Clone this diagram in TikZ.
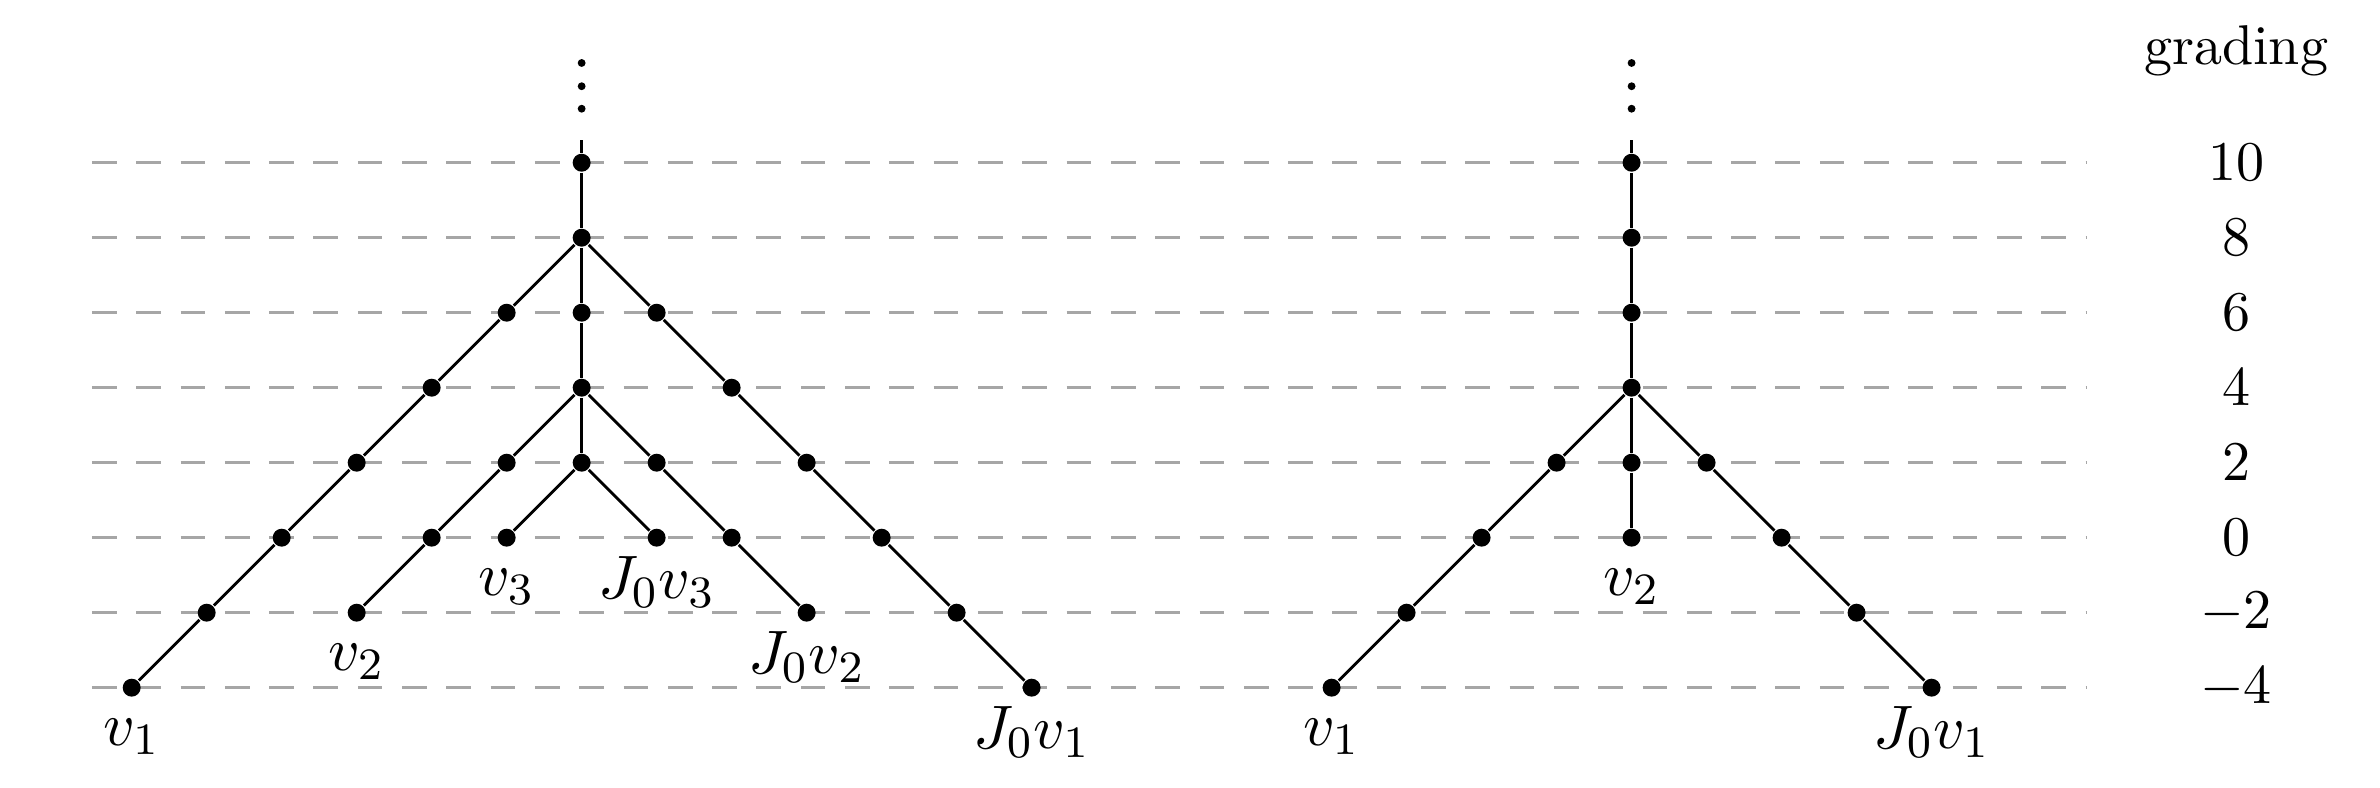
\documentclass[tikz,border=0pt]{standalone}
\begin{document}
\begin{tikzpicture}[x=0.47cm,y=0.47cm,
  pt/.style={circle,fill=black,inner sep=0pt,minimum size=3.2pt},
  edge/.style={line width=0.5pt},
  gridline/.style={black!35,line width=0.55pt,dash pattern=on 4.4pt off 3.5pt},
  labfont/.style={font=\fontsize{11.4}{13.7}\selectfont},
  vlab/.style={label={[anchor=base,yshift=-0.296cm,labfont]below:#1}},
  jlab/.style={label={[anchor=base,yshift=-0.315cm,labfont]below:#1}},
  gr/.style={anchor=center}]
\useasboundingbox (-1.756,-3.325) rectangle (29.98,7.17);
% grading lines and values
\foreach \g/\t in {-4/$-4$,-2/$-2$,0/$0$,2/$2$,4/$4$,6/$6$,8/$8$,10/$10$}{
  \draw[gridline] (-0.53,\g/2) -- (26.06,\g/2);
  \node[gr] (g\g) at (28.06,\g/2) {\t};
}
\node (grading) at (28.06,6.49) {grading};
% ---------------- left tree ----------------
\foreach \g in {10,8,6,4,2}{
  \node[pt] (Ls\g) at (6,\g/2) {};
}
\coordinate (Ltop) at (6,5.3);
\foreach \y in {5.72,6.02,6.33} \fill (6,\y) circle (0.7pt);
% outer branches from g=8
\node[pt] (La1) at (5,3) {};
\node[pt] (La2) at (4,2) {};
\node[pt] (La3) at (3,1) {};
\node[pt] (La4) at (2,0) {};
\node[pt] (La5) at (1,-1) {};
\node[pt,vlab={$v_1$}] (Lv1) at (0,-2) {};
\node[pt] (Lb1) at (7,3) {};
\node[pt] (Lb2) at (8,2) {};
\node[pt] (Lb3) at (9,1) {};
\node[pt] (Lb4) at (10,0) {};
\node[pt] (Lb5) at (11,-1) {};
\node[pt,jlab={$J_0v_1$}] (LJv1) at (12,-2) {};
% middle branches from g=4
\node[pt] (Lc1) at (5,1) {};
\node[pt] (Lc2) at (4,0) {};
\node[pt,vlab={$v_2$}] (Lv2) at (3,-1) {};
\node[pt] (Ld1) at (7,1) {};
\node[pt] (Ld2) at (8,0) {};
\node[pt,jlab={$J_0v_2$}] (LJv2) at (9,-1) {};
% inner branches from g=2
\node[pt,vlab={$v_3$}] (Lv3) at (5,0) {};
\node[pt,jlab={$J_0v_3$}] (LJv3) at (7,0) {};
\draw[edge] (Ltop) -- (Ls10) -- (Ls8) -- (Ls6) -- (Ls4) -- (Ls2);
\draw[edge] (Ls8) -- (La1) -- (La2) -- (La3) -- (La4) -- (La5) -- (Lv1);
\draw[edge] (Ls8) -- (Lb1) -- (Lb2) -- (Lb3) -- (Lb4) -- (Lb5) -- (LJv1);
\draw[edge] (Ls4) -- (Lc1) -- (Lc2) -- (Lv2);
\draw[edge] (Ls4) -- (Ld1) -- (Ld2) -- (LJv2);
\draw[edge] (Ls2) -- (Lv3);
\draw[edge] (Ls2) -- (LJv3);
% ---------------- right tree ----------------
\foreach \g in {10,8,6,4,2}{
  \node[pt] (Rs\g) at (20,\g/2) {};
}
\node[pt,vlab={$v_2$}] (Rv2) at (20,0) {};
\coordinate (Rtop) at (20,5.3);
\foreach \y in {5.72,6.02,6.33} \fill (20,\y) circle (0.7pt);
\node[pt] (Ra1) at (19,1) {};
\node[pt] (Ra2) at (18,0) {};
\node[pt] (Ra3) at (17,-1) {};
\node[pt,vlab={$v_1$}] (Rv1) at (16,-2) {};
\node[pt] (Rb1) at (21,1) {};
\node[pt] (Rb2) at (22,0) {};
\node[pt] (Rb3) at (23,-1) {};
\node[pt,jlab={$J_0v_1$}] (RJv1) at (24,-2) {};
\draw[edge] (Rtop) -- (Rs10) -- (Rs8) -- (Rs6) -- (Rs4) -- (Rs2) -- (Rv2);
\draw[edge] (Rs4) -- (Ra1) -- (Ra2) -- (Ra3) -- (Rv1);
\draw[edge] (Rs4) -- (Rb1) -- (Rb2) -- (Rb3) -- (RJv1);
\end{tikzpicture}
\end{document}
